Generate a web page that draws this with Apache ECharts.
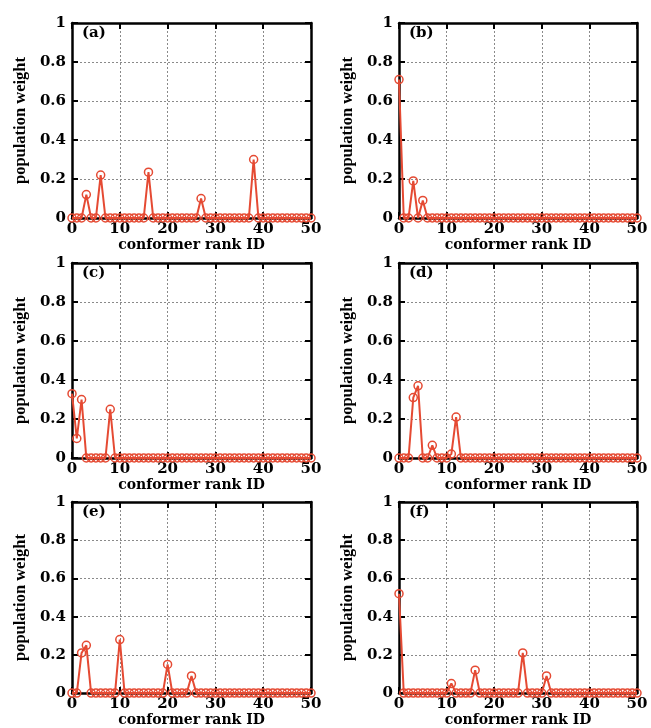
<!DOCTYPE html>
<html><head><meta charset="utf-8">
<script src="https://cdn.jsdelivr.net/npm/echarts@6/dist/echarts.min.js"></script>
<style>html,body{margin:0;padding:0;background:#fff}#c{width:651px;height:728px}</style>
</head><body><div id="c"></div>
<script>
// ---- data (conformer rank ID 0..50) ----
const panelLabels = ['(a)', '(b)', '(c)', '(d)', '(e)', '(f)'];
const xTickValues = [0, 10, 20, 30, 40, 50];
const yTickValues = [0, 0.2, 0.4, 0.6, 0.8, 1];
const weightsA = [
  0, 0, 0, 0.12, 0, 0, 0.22, 0, 0, 0,
  0, 0, 0, 0, 0, 0, 0.235, 0, 0, 0,
  0, 0, 0, 0, 0, 0, 0, 0.10, 0, 0,
  0, 0, 0, 0, 0, 0, 0, 0, 0.30, 0,
  0, 0, 0, 0, 0, 0, 0, 0, 0, 0,
  0];
const weightsB = [
  0.71, 0, 0, 0.19, 0, 0.09, 0, 0, 0, 0,
  0, 0, 0, 0, 0, 0, 0, 0, 0, 0,
  0, 0, 0, 0, 0, 0, 0, 0, 0, 0,
  0, 0, 0, 0, 0, 0, 0, 0, 0, 0,
  0, 0, 0, 0, 0, 0, 0, 0, 0, 0,
  0];
const weightsC = [
  0.33, 0.10, 0.30, 0, 0, 0, 0, 0, 0.25, 0,
  0, 0, 0, 0, 0, 0, 0, 0, 0, 0,
  0, 0, 0, 0, 0, 0, 0, 0, 0, 0,
  0, 0, 0, 0, 0, 0, 0, 0, 0, 0,
  0, 0, 0, 0, 0, 0, 0, 0, 0, 0,
  0];
const weightsD = [
  0, 0, 0, 0.31, 0.37, 0, 0, 0.065, 0, 0,
  0, 0.02, 0.21, 0, 0, 0, 0, 0, 0, 0,
  0, 0, 0, 0, 0, 0, 0, 0, 0, 0,
  0, 0, 0, 0, 0, 0, 0, 0, 0, 0,
  0, 0, 0, 0, 0, 0, 0, 0, 0, 0,
  0];
const weightsE = [
  0, 0, 0.21, 0.25, 0, 0, 0, 0, 0, 0,
  0.28, 0, 0, 0, 0, 0, 0, 0, 0, 0,
  0.15, 0, 0, 0, 0, 0.09, 0, 0, 0, 0,
  0, 0, 0, 0, 0, 0, 0, 0, 0, 0,
  0, 0, 0, 0, 0, 0, 0, 0, 0, 0,
  0];
const weightsF = [
  0.52, 0, 0, 0, 0, 0, 0, 0, 0, 0,
  0, 0.05, 0, 0, 0, 0, 0.12, 0, 0, 0,
  0, 0, 0, 0, 0, 0, 0.21, 0, 0, 0,
  0, 0.09, 0, 0, 0, 0, 0, 0, 0, 0,
  0, 0, 0, 0, 0, 0, 0, 0, 0, 0,
  0];
const panelWeights = [weightsA, weightsB, weightsC, weightsD, weightsE, weightsF];
const xName = 'conformer rank ID';
const yName = 'population weight';

// ---- layout ----
const colLeft = [72, 399];
const colWidth = [239, 238];
const rowTop = [23, 263, 502];
const plotH = 195;
const RED = '#e54a33';
const tickFont = { fontFamily: 'DejaVu Serif', fontWeight: 'bold', fontSize: 15, color: '#000' };

const grids = [], xAxes = [], yAxes = [], series = [], titles = [];
panelWeights.forEach((w, i) => {
  const c = i % 2, r = Math.floor(i / 2);
  grids.push({ left: colLeft[c], top: rowTop[r], width: colWidth[c], height: plotH, show: false });
  const tick = { show: true, inside: true, length: 6, lineStyle: { color: '#000', width: 2 } };
  const line = { show: true, onZero: false, lineStyle: { color: '#000', width: 2.5 } };
  xAxes.push({
    type: 'value', gridIndex: i, position: 'bottom', min: xTickValues[0], max: xTickValues[xTickValues.length - 1], interval: 10,
    axisLine: line, axisTick: tick,
    axisLabel: Object.assign({ margin: 4, showMinLabel: true, showMaxLabel: true }, tickFont),
    splitLine: { show: true, lineStyle: { type: [2, 2], color: '#8a8a8a', width: 1 } },
    name: xName, nameLocation: 'middle', nameGap: 15,
    nameTextStyle: { fontFamily: 'DejaVu Serif', fontWeight: 'bold', fontSize: 14, color: '#000' }
  });
  xAxes.push({
    type: 'value', gridIndex: i, position: 'top', min: 0, max: 50, interval: 10,
    axisLine: line, axisTick: tick, axisLabel: { show: false }, splitLine: { show: false }
  });
  yAxes.push({
    type: 'value', gridIndex: i, position: 'left', min: yTickValues[0], max: yTickValues[yTickValues.length - 1], interval: 0.2,
    axisLine: line, axisTick: tick,
    axisLabel: Object.assign({ margin: 6 }, tickFont),
    splitLine: { show: true, lineStyle: { type: [2, 2], color: '#8a8a8a', width: 1 } },
    name: yName, nameLocation: 'middle', nameGap: 43,
    nameTextStyle: { fontFamily: 'Liberation Serif', fontWeight: 'bold', fontSize: 16.5, color: '#000' }
  });
  yAxes.push({
    type: 'value', gridIndex: i, position: 'right', min: 0, max: 1, interval: 0.2,
    axisLine: line, axisTick: tick, axisLabel: { show: false }, splitLine: { show: false }
  });
  series.push({
    type: 'line', xAxisIndex: 2 * i, yAxisIndex: 2 * i,
    data: w.map((v, k) => [k, v]),
    symbol: 'circle', symbolSize: 8, showSymbol: true, clip: false,
    lineStyle: { color: RED, width: 2 },
    itemStyle: { color: 'rgba(255,255,255,0)', borderColor: RED, borderWidth: 1.5 },
    animation: false, z: 3
  });
  titles.push({
    text: panelLabels[i], left: colLeft[c] + 10, top: rowTop[r] + 3, padding: 0,
    textStyle: { fontFamily: 'DejaVu Serif', fontWeight: 'bold', fontSize: 15, color: '#000' }
  });
});

const chart = echarts.init(document.getElementById('c'), null, { renderer: 'canvas' });
chart.setOption({
  backgroundColor: '#fff', animation: false,
  title: titles, grid: grids, xAxis: xAxes, yAxis: yAxes, series: series
});
</script></body></html>
